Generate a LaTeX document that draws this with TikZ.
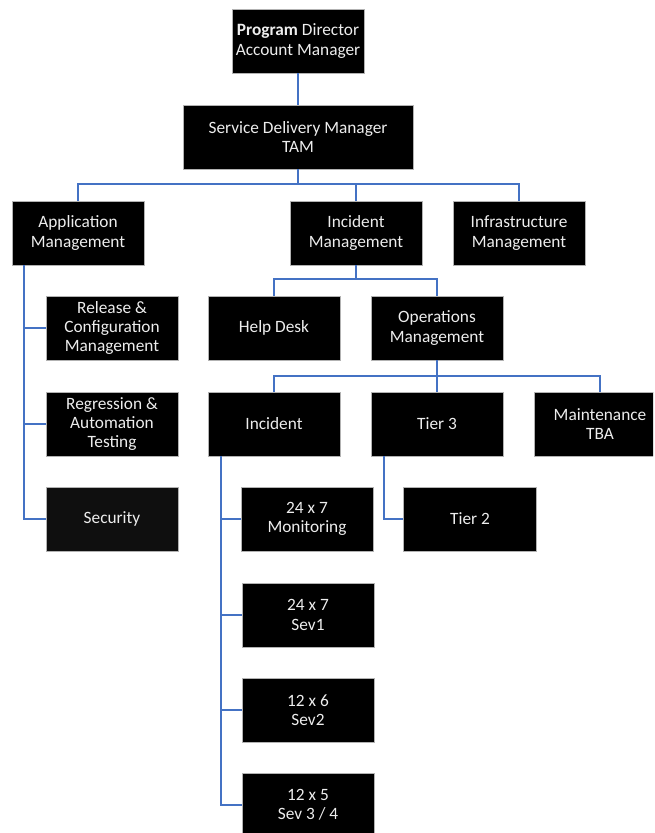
\documentclass[tikz,border=0pt]{standalone}
\usepackage{fontspec}
\setmainfont{Carlito}
\begin{document}
\begin{tikzpicture}[x=1pt,y=-1pt,
  box/.style={draw=gray!60, line width=0.6pt, fill=black, text=white!93!black,
    minimum width=132pt, minimum height=64pt, align=center, inner sep=0pt,
    font={\fontsize{17.3}{19.3}\selectfont}},
  conn/.style={draw={rgb,255:red,68;green,114;blue,196}, line width=1.8pt}]
\useasboundingbox (0,0) rectangle (654,833);
\clip (0,0) rectangle (653,833);
% level 0-1
\node[box] (pd) at (298,41) {\textbf{Program} Director\\Account Manager};
\node[box, minimum width=230pt] (sdm) at (298,137) {Service Delivery Manager\\TAM};
% level 2
\node[box] (am) at (78,233) {Application\\Management};
\node[box] (im) at (356,233) {Incident\\Management};
\node[box] (inf) at (519,233) {Infrastructure\\Management};
% level 3
\node[box] (rc) at (112,328) {Release \&\\Configuration\\Management};
\node[box] (hd) at (274,328) {Help Desk};
\node[box] (om) at (437,328) {Operations\\Management};
% level 4
\node[box] (rat) at (112,424) {Regression \&\\Automation\\Testing};
\node[box] (inc) at (274,424) {Incident};
\node[box] (t3) at (437,424) {Tier 3};
\node[box] (mt) at (600,424) {Maintenance\\TBA};
% level 5
\node[box, fill=black!94] (sec) at (112,519) {Security};
\node[box] (mon) at (307,519) {24 x 7\\Monitoring};
\node[box, minimum width=133pt] (t2) at (470,519) {Tier 2};
% severity
\node[box] (s1) at (308,615) {24 x 7\\Sev1};
\node[box] (s2) at (308,710) {12 x 6\\Sev2};
\node[box] (s3) at (308,805) {12 x 5\\Sev 3 / 4};
% connectors
\draw[conn] (pd.south) -- (sdm.north);
\draw[conn] (sdm.south) -- ++(0,15) -| (am.north);
\draw[conn] (sdm.south) -- ++(0,15) -| (im.north);
\draw[conn] (sdm.south) -- ++(0,15) -| (inf.north);
\draw[conn] (im.south) -- ++(0,14) -| (hd.north);
\draw[conn] (im.south) -- ++(0,14) -| (om.north);
\draw[conn] (om.south) -- ++(0,16) -| (inc.north);
\draw[conn] (om.south) -- ++(0,16) -| (t3.north);
\draw[conn] (om.south) -- ++(0,16) -| (mt.north);
\draw[conn] ([xshift=-54pt]am.south) |- (rc.west);
\draw[conn] ([xshift=-54pt]am.south) |- (rat.west);
\draw[conn] ([xshift=-54pt]am.south) |- (sec.west);
\draw[conn] ([xshift=-53pt]inc.south) |- (mon.west);
\draw[conn] ([xshift=-53pt]inc.south) |- (s1.west);
\draw[conn] ([xshift=-53pt]inc.south) |- (s2.west);
\draw[conn] ([xshift=-53pt]inc.south) |- (s3.west);
\draw[conn] ([xshift=-53pt]t3.south) |- (t2.west);
\end{tikzpicture}
\end{document}
